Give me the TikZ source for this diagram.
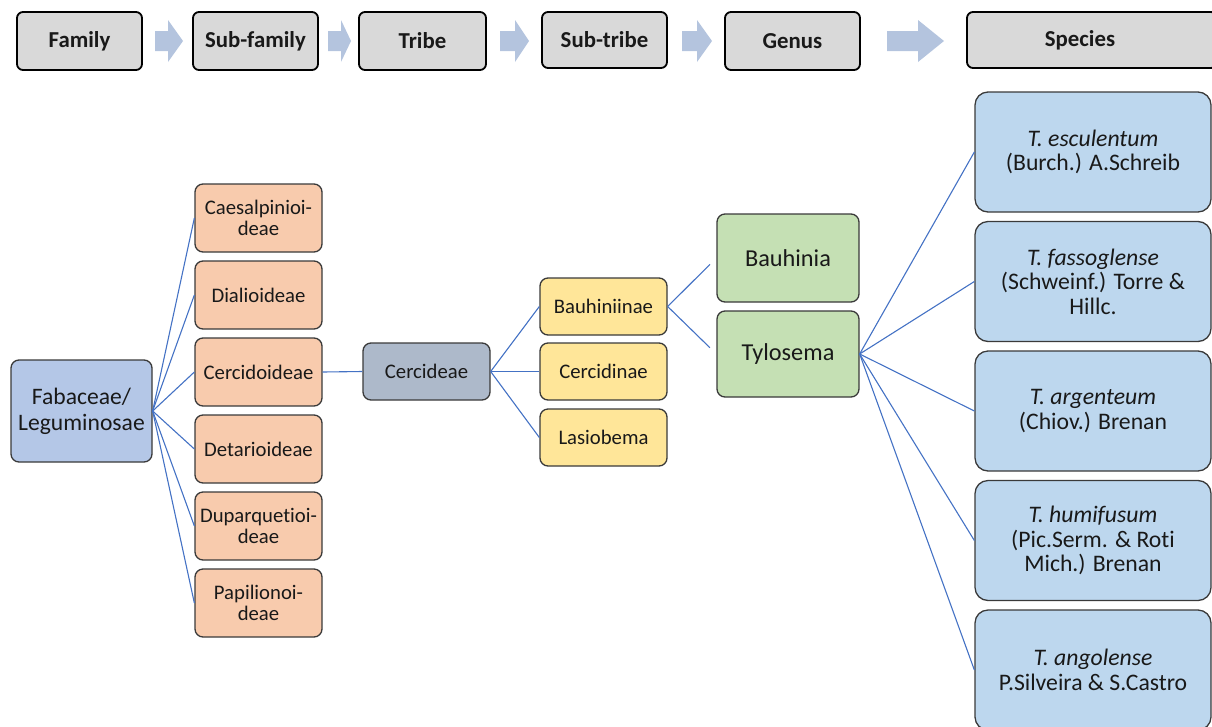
\documentclass[tikz,border=0pt]{standalone}
\usepackage{fontspec}
\setmainfont{Carlito}[Ligatures=NoCommon]
\definecolor{hdrfill}{HTML}{D9D9D9}
\definecolor{arrfill}{HTML}{B4C4DE}
\definecolor{famfill}{HTML}{B4C7E7}
\definecolor{subfill}{HTML}{F8CBAD}
\definecolor{tribfill}{HTML}{ADB9CA}
\definecolor{stfill}{HTML}{FFE699}
\definecolor{genfill}{HTML}{C5E0B4}
\definecolor{spfill}{HTML}{BDD7EE}
\definecolor{linecol}{HTML}{4472C4}
\definecolor{edgecol}{HTML}{3A3A3A}
\tikzset{
  hdr/.style={draw=black, line width=1.8pt, fill=hdrfill, rounded corners=6pt, inner sep=0pt,
    font=\fontsize{22.8}{25}\selectfont\bfseries, text=black!90},
  box/.style={draw=edgecol, line width=1.3pt, rounded corners=8pt, inner sep=0pt, align=center, text=black!90},
  subbox/.style={box, fill=subfill, minimum width=127pt, minimum height=68pt, font=\fontsize{20.7}{21}\selectfont},
  stbox/.style={box, fill=stfill, minimum width=127pt, minimum height=57pt, font=\fontsize{20.7}{21}\selectfont},
  genbox/.style={box, fill=genfill, minimum width=142pt, font=\fontsize{24.3}{25}\selectfont},
  spbox/.style={box, fill=spfill, rounded corners=13pt, minimum width=236pt, minimum height=120pt, font=\fontsize{23.7}{24.5}\selectfont},
  conn/.style={draw=linecol, line width=1.1pt},
  blockarrow/.style={fill=arrfill, draw=none}
}
\begin{document}
\begin{tikzpicture}[x=1pt,y=-1pt]
\useasboundingbox (0,0) rectangle (1212,726);
% header row
\node[hdr, minimum width=125pt, minimum height=58pt] (hfam) at (79.5,41) {Family};
\node[hdr, minimum width=125pt, minimum height=58pt] (hsubfam) at (255.5,41) {Sub-family};
\node[hdr, minimum width=127pt, minimum height=58pt] (htribe) at (422.5,41) {Tribe};
\node[hdr, minimum width=125pt, minimum height=56pt] (hsubtribe) at (604.5,40) {Sub-tribe};
\node[hdr, minimum width=135pt, minimum height=58pt] (hgenus) at (792.5,41) {Genus};
\node[hdr, minimum width=250pt, minimum height=56pt, text width=0pt] (hspecies) at (1092,40) {};
\node[font=\fontsize{22.8}{25}\selectfont\bfseries, text=black!90] (hspeciestext) at (1080,40) {Species};
% block arrows
\foreach \xa/\xb/\xc in {155/168/183, 328/341/351, 500/515/529, 682/697/712, 887/918/944}{
  \fill[blockarrow] (\xa,31) -- (\xb,31) -- (\xb,20) -- (\xc,41) -- (\xb,62) -- (\xb,51) -- (\xa,51) -- cycle;
}
% family
\node[box, fill=famfill, minimum width=141pt, minimum height=102pt, font=\fontsize{23.6}{26}\selectfont] (fab) at (81.5,411) {Fabaceae/\\Leguminosae};
% sub-families
\node[subbox] (caes) at (258.5,218) {Caesalpinioi-\\deae};
\node[subbox] (dial) at (258.5,295) {Dialioideae};
\node[subbox] (cerd) at (258.5,372) {Cercidoideae};
\node[subbox] (deta) at (258.5,449) {Detarioideae};
\node[subbox] (dupa) at (258.5,526) {Duparquetioi-\\deae};
\node[subbox] (papi) at (258.5,603) {Papilionoi-\\deae};
% tribe
\node[box, fill=tribfill, minimum width=127pt, minimum height=57pt, font=\fontsize{20.7}{21}\selectfont] (cerc) at (426.5,371.5) {Cercideae};
% sub-tribes
\node[stbox] (bauh) at (603.5,306.5) {Bauhiniinae};
\node[stbox] (cercn) at (603.5,371.5) {Cercidinae};
\node[stbox] (lasi) at (603.5,437.5) {Lasiobema};
% genera
\node[genbox, minimum height=88pt] (bauhinia) at (788,258) {Bauhinia};
\node[genbox, minimum height=86pt] (tylo) at (788,354) {Tylosema};
% species
\node[spbox] (sp1) at (1093,152) {\textit{T. esculentum}\\(Burch.) A.Schreib};
\node[spbox] (sp2) at (1093,281.5) {\textit{T. fassoglense}\\(Schweinf.) Torre \&\\Hillc.};
\node[spbox] (sp3) at (1093,411) {\textit{T. argenteum}\\(Chiov.) Brenan};
\node[spbox] (sp4) at (1093,540.5) {\textit{T. humifusum}\\(Pic.Serm. \& Roti\\Mich.) Brenan};
\node[spbox] (sp5) at (1093,670) {\textit{T. angolense}\\P.Silveira \& S.Castro};
% connectors
\foreach \t in {caes,dial,cerd,deta,dupa,papi}{ \draw[conn] (fab.east) -- (\t.west); }
\draw[conn] (cerd.east) -- (cerc.west);
\foreach \t in {bauh,cercn,lasi}{ \draw[conn] (cerc.east) -- (\t.west); }
\draw[conn, shorten >=9pt] (bauh.east) -- (bauhinia.west);
\draw[conn, shorten >=9pt] (bauh.east) -- (tylo.west);
\foreach \t in {sp1,sp2,sp3,sp4,sp5}{ \draw[conn] (tylo.east) -- (\t.west); }
\end{tikzpicture}
\end{document}
